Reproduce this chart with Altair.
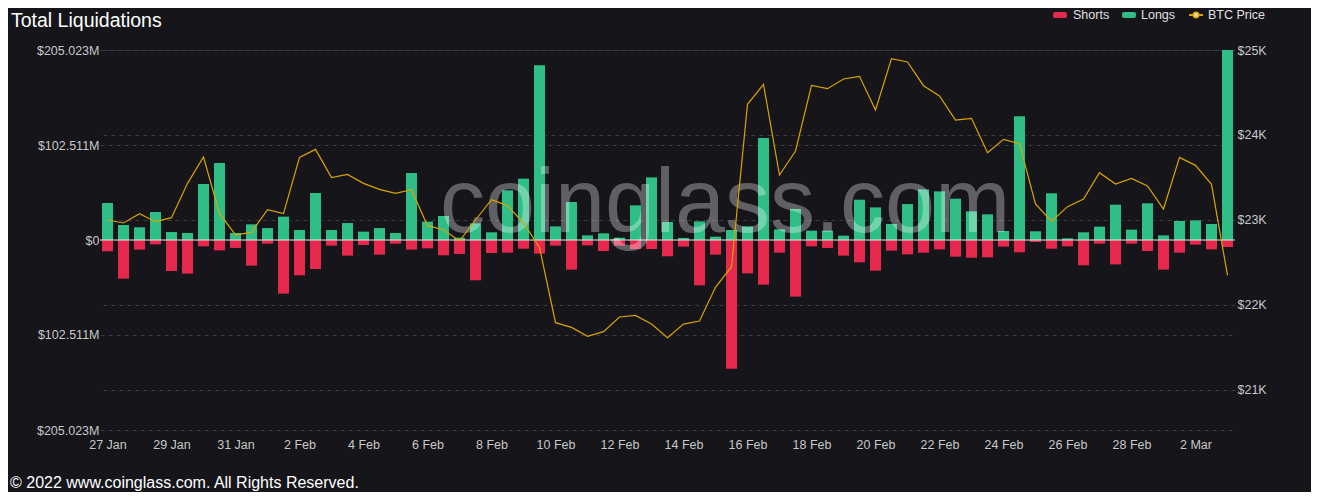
import altair as alt
import pandas as pd

# ---- data (12-hour buckets, 27 Jan 2022 00:00 -> 3 Mar 2022 00:00) ----
times = pd.date_range("2022-01-27 00:00", periods=71, freq="12h")

longs = [39.9, 16.2, 13.7, 30.2, 8.6, 7.6, 60.4, 83.1, 7.6, 16.9, 12.9, 25.2, 10.8, 50.7,
         10.8, 18.3, 9.0, 12.9, 7.6, 72.3, 19.8, 25.9, 2.5, 18.0, 8.3, 53.6, 66.2, 188.5, 14.7,
         41.0, 5.0, 7.2, 2.5, 37.4, 67.6, 19.4, 2.2, 20.1, 3.6, 10.8, 14.7, 110.1, 11.5,
         33.5, 10.1, 10.1, 4.7, 43.5, 35.2, 17.3, 38.8, 54.7, 52.5, 44.6, 30.9, 27.7, 9.7,
         133.5, 9.4, 50.4, 1.8, 8.3, 14.4, 38.1, 11.2, 39.6, 5.0, 20.5, 21.2, 17.3, 205.0]

shorts = [12.2, 41.7, 10.4, 4.7, 33.5, 36.3, 6.8, 11.2, 8.6, 27.7, 4.0, 57.9, 38.1, 31.3,
          6.1, 16.9, 5.4, 15.8, 4.0, 10.4, 9.0, 16.5, 15.1, 43.5, 14.0, 13.7, 9.4, 14.7, 6.1,
          32.0, 5.8, 11.9, 6.1, 9.7, 9.7, 17.6, 7.2, 48.9, 15.8, 138.8, 36.0, 48.2, 13.7,
          61.1, 6.8, 8.6, 16.9, 24.1, 33.1, 11.5, 15.5, 13.7, 10.1, 18.0, 19.1, 18.7, 7.2,
          13.3, 2.2, 9.4, 6.8, 27.3, 4.0, 26.3, 4.0, 11.9, 32.0, 13.7, 5.0, 10.1, 7.6]

btc_price = [23000, 22965, 23075, 22980, 23027, 23431, 23741, 23078, 22824, 22855, 23122, 23075, 23737, 23831,
             23498, 23537, 23431, 23361, 23314, 23357, 22933, 22886, 22753, 23000, 23239, 23169, 22965, 22678, 21792,
             21737, 21631, 21686, 21859, 21878, 21776, 21616, 21776, 21812, 22208, 22451, 24361, 24596, 23529,
             23812, 24584, 24545, 24659, 24690, 24294, 24898, 24859, 24580, 24459, 24176, 24196, 23792, 23949,
             23898, 23188, 22984, 23157, 23247, 23557, 23424, 23490, 23400, 23129, 23737, 23643, 23420, 22349]

left_ticks = [-205.023, -102.511, 0, 102.511, 205.023]
right_ticks = [21000, 22000, 23000, 24000, 25000]
series_names = ["Shorts", "Longs", "BTC Price"]

# ---- tables ----
bars_df = pd.DataFrame({
    "time": list(times) * 2,
    "series": ["Longs"] * len(longs) + ["Shorts"] * len(shorts),
    "value": longs + [-s for s in shorts],
})
price_df = pd.DataFrame({"time": times, "price": btc_price})
zero_df = pd.DataFrame({"v": [0]})
one = pd.DataFrame({"k": [0]})

GREEN = "#2ebe86"
RED = "#e6284c"
GOLD = "#dba400"
BG = "#15151a"
FONT = "Liberation Sans"

x_enc = alt.X(
    "time:T",
    title=None,
    scale=alt.Scale(
        domain=[
            alt.DateTime(year=2022, month=1, date=26, hours=18, minutes=22, seconds=30),
            alt.DateTime(year=2022, month=3, date=3, hours=5, minutes=37, seconds=30),
        ],
        padding=0,
    ),
    axis=alt.Axis(
        values=[alt.DateTime(year=t.year, month=t.month, date=t.day) for t in times[::4]],
        format="%-d %b", grid=False, labelPadding=8,
    ),
)

left_scale = alt.Scale(domain=[-205.023, 205.023], nice=False, zero=False)
left_axis = alt.Axis(
    values=left_ticks, orient="left", grid=True, labelPadding=1,
    labelExpr="datum.value == 0 ? '$0' : '$' + format(abs(datum.value), '.3f') + 'M'",
)

bars = alt.Chart(bars_df).mark_bar(size=11).encode(
    x=x_enc,
    y=alt.Y("value:Q", title=None, scale=left_scale, axis=left_axis),
    color=alt.Color("series:N", scale=alt.Scale(domain=["Shorts", "Longs"], range=[RED, GREEN]), legend=None),
)

zero_rule = alt.Chart(zero_df).mark_rule(color="#e8e8e8", strokeWidth=1.2).encode(
    y=alt.Y("v:Q", title=None, scale=left_scale, axis=left_axis),
)

left = alt.layer(bars, zero_rule)

watermark = alt.Chart(one).mark_text(
    text="coinglass.com", font=FONT, fontSize=90, color="#ffffff", opacity=0.32,
    align="center", baseline="alphabetic",
).encode(x=alt.value(625), y=alt.value(182))

line = alt.Chart(price_df).mark_line(color=GOLD, strokeWidth=1.2).encode(
    x=alt.X("time:T"),
    y=alt.Y(
        "price:Q", title=None,
        scale=alt.Scale(domain=[20529.41, 25000], nice=False, zero=False),
        axis=alt.Axis(
            values=right_ticks, orient="right", grid=True, labelPadding=2,
            labelExpr="'$' + (datum.value / 1000) + 'K'",
        ),
    ),
)

title = alt.Chart(one).mark_text(
    text="Total Liquidations", font=FONT, fontSize=19.5, color="#ffffff",
    align="left", baseline="top",
).encode(x=alt.value(-89), y=alt.value(-38))

footer = alt.Chart(one).mark_text(
    text="\u00a9 2022 www.coinglass.com. All Rights Reserved.", font=FONT, fontSize=16,
    color="#ffffff", align="left", baseline="alphabetic",
).encode(x=alt.value(-90), y=alt.value(438))

# legend (top right)
LEG_Y = -35
leg_short_sym = alt.Chart(one).mark_rect(color=RED, cornerRadius=2).encode(
    x=alt.value(953), x2=alt.value(967), y=alt.value(LEG_Y - 3), y2=alt.value(LEG_Y + 3))
leg_long_sym = alt.Chart(one).mark_rect(color=GREEN, cornerRadius=2).encode(
    x=alt.value(1022), x2=alt.value(1036), y=alt.value(LEG_Y - 3), y2=alt.value(LEG_Y + 3))
leg_btc_line = alt.Chart(one).mark_rule(color=GOLD, strokeWidth=2).encode(
    x=alt.value(1089), x2=alt.value(1103), y=alt.value(LEG_Y))
leg_btc_dot = alt.Chart(one).mark_point(
    shape="circle", size=30, filled=True, fill="#f3e3a8", stroke=GOLD, strokeWidth=1.5, opacity=1
).encode(x=alt.value(1096), y=alt.value(LEG_Y))


def leg_text(label, xpos):
    return alt.Chart(one).mark_text(
        text=label, font=FONT, fontSize=12.5, color="#e0e0e0", align="left", baseline="middle",
    ).encode(x=alt.value(xpos), y=alt.value(LEG_Y))


legend_layers = [
    leg_short_sym, leg_text(series_names[0], 973),
    leg_long_sym, leg_text(series_names[1], 1041),
    leg_btc_line, leg_btc_dot, leg_text(series_names[2], 1108),
]

chart = alt.layer(
    left, watermark, line, title, footer, *legend_layers
).resolve_scale(
    y="independent"
).properties(
    width=1135, height=380,
    autosize=alt.AutoSizeParams(type="none"),
    padding={"left": 92, "top": 42, "right": 76, "bottom": 62},
    background=BG,
).configure_view(
    strokeWidth=0
).configure_axis(
    domain=False, ticks=False, labelFont=FONT, labelFontSize=12.5, labelColor="#c8c8c8",
    gridColor="#3a3a41", gridDash=[4, 4], gridWidth=1,
)

chart.save("out.html", embed_options={"renderer": "svg", "actions": False})
